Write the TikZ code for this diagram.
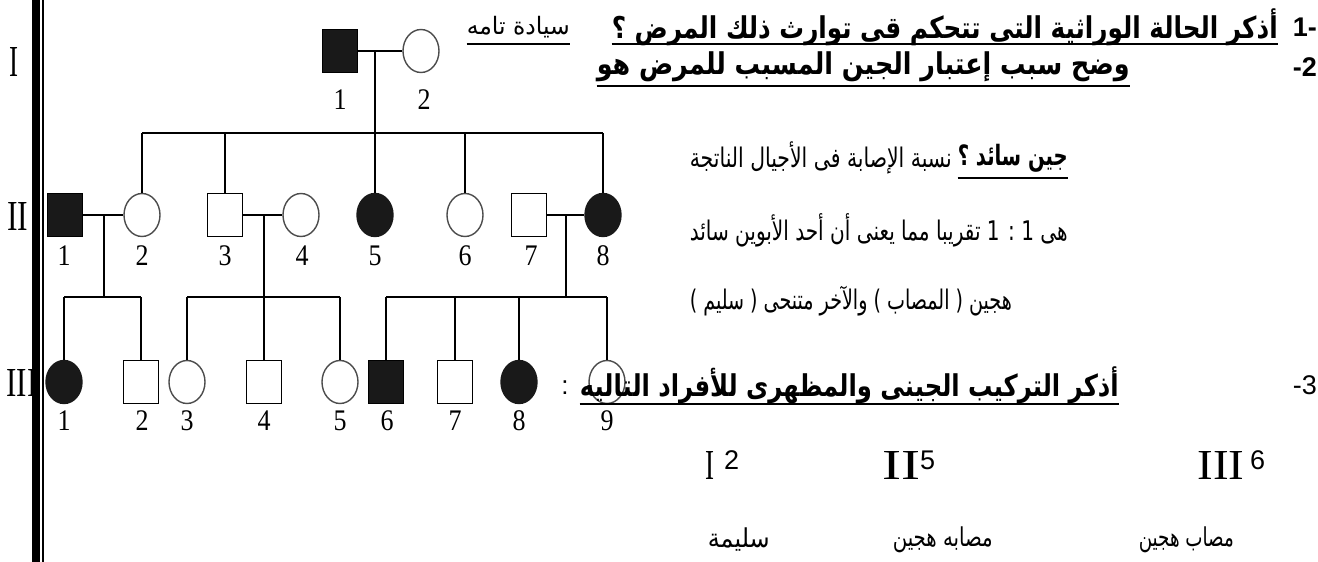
\documentclass[tikz,border=0pt]{standalone}
\usepackage{fontspec}
\setmainfont{Liberation Serif}
\newfontfamily\ar[Script=Arabic]{DejaVu Sans}
\newfontfamily\lsans{Liberation Sans}
\TeXXeTstate=1
\usetikzlibrary{shapes.geometric}
% width-fitted Arabic text: #1 width (pt), #2 font size (pt), #3 text
\newcommand\artx[3]{\resizebox{#1pt}{\height}{\fontsize{#2}{#2}\ar #3}}
\newcommand\artxb[3]{\resizebox{#1pt}{\height}{\fontsize{#2}{#2}\ar\bfseries #3}}
\newcommand\pnum[1]{\scalebox{1}[1.15]{#1}}
\begin{document}
\begin{tikzpicture}[x=1pt,y=-1pt,
  ped/.style={line width=1.3pt, black},
  msq/.style={rectangle, draw=black, line width=1.4pt, minimum width=35pt, minimum height=43pt, inner sep=0pt},
  fsq/.style={msq, fill=black!90},
  ocirc/.style={ellipse, draw=black!70, line width=1.4pt, minimum width=36pt, minimum height=43pt, inner sep=0pt},
  fcirc/.style={ellipse, draw=black!90, fill=black!90, line width=1.4pt, minimum width=36pt, minimum height=43pt, inner sep=0pt},
  num/.style={font=\fontsize{26}{26}\selectfont, inner sep=0pt},
  txt/.style={inner sep=0pt, anchor=east},
  ulb/.style={line width=2.4pt, black},
  uln/.style={line width=1.4pt, black}
]
\useasboundingbox (0,0) rectangle (1318,562);
\fill[white] (0,0) rectangle (1318,562);

% ---------- generation labels ----------
\node[inner sep=0pt] (gI) at (14,62) {\resizebox{9pt}{29pt}{I}};
\node[inner sep=0pt] (gII) at (17.5,216) {\resizebox{21pt}{28pt}{II}};
\node[inner sep=0pt] (gIII) at (22,383) {\resizebox{31pt}{27pt}{III}};

% ---------- generation I ----------
\node[fsq] (I1) at (340,51) {};
\node[ocirc] (I2) at (421,51) {};
\coordinate (m1) at (375,51);
\coordinate (s1) at (375,133);

% ---------- generation II ----------
\node[fsq] (II1) at (65,215) {};
\node[ocirc] (II2) at (142,215) {};
\node[msq] (II3) at (225,215) {};
\node[ocirc] (II4) at (301,215) {};
\node[fcirc] (II5) at (375,215) {};
\node[ocirc] (II6) at (465,215) {};
\node[msq] (II7) at (529,215) {};
\node[fcirc] (II8) at (603,215) {};
\coordinate (m2) at (104,215);
\coordinate (m3) at (264,215);
\coordinate (m4) at (566,215);
\coordinate (s2) at (104,297);
\coordinate (s3) at (264,297);
\coordinate (s4) at (566,297);

% ---------- generation III ----------
\node[fcirc] (III1) at (64,382) {};
\node[msq] (III2) at (141,382) {};
\node[ocirc] (III3) at (187,382) {};
\node[msq] (III4) at (264,382) {};
\node[ocirc] (III5) at (340,382) {};
\node[fsq] (III6) at (386,382) {};
\node[msq] (III7) at (455,382) {};
\node[fcirc] (III8) at (519,382) {};
\node[ocirc] (III9) at (607,382) {};

% ---------- connectors ----------
\draw[ped] (I1.east) -- (I2.west);
\draw[ped] (m1) -- (s1);
\draw[ped] (II2.north |- s1) -- (II8.north |- s1);
\foreach \n in {II2,II3,II5,II6,II8} \draw[ped] (\n.north |- s1) -- (\n.north);

\draw[ped] (II1.east) -- (II2.west);
\draw[ped] (II3.east) -- (II4.west);
\draw[ped] (II7.east) -- (II8.west);
\draw[ped] (m2) -- (s2);
\draw[ped] (m3) -- (s3);
\draw[ped] (m4) -- (s4);

\draw[ped] (III1.north |- s2) -- (III2.north |- s2);
\foreach \n in {III1,III2} \draw[ped] (\n.north |- s2) -- (\n.north);
\draw[ped] (III3.north |- s3) -- (III5.north |- s3);
\foreach \n in {III3,III4,III5} \draw[ped] (\n.north |- s3) -- (\n.north);
\draw[ped] (III6.north |- s4) -- (III9.north |- s4);
\foreach \n in {III6,III7,III8,III9} \draw[ped] (\n.north |- s4) -- (\n.north);

% ---------- numbers ----------
\node[num] (nI1) at (340,100) {\pnum{1}};
\node[num] (nI2) at (424,100) {\pnum{2}};
\foreach \x/\t in {64/1,142/2,225/3,302/4,375/5,465/6,531/7,603/8}
  \node[num] (nII\t) at (\x,256) {\pnum{\t}};
\foreach \x/\t in {64/1,142/2,187/3,264/4,340/5,387/6,455/7,519/8,607/9}
  \node[num] (nIII\t) at (\x,421) {\pnum{\t}};

% ---------- left bars ----------
\fill[black] (32,0) rectangle (40,562);
\fill[black] (42,0) rectangle (44,562);

% ---------- text ----------
\coordinate (u1) at (0,44);
\coordinate (u2) at (0,86);
\coordinate (u3) at (0,178);
\coordinate (u6) at (0,404);

\node[txt] (q1n) at (1317,27) {\fontsize{27}{27}\lsans\bfseries 1-};
\node[txt] (q1) at (1278,27) {\artxb{666}{30}{\beginR أذكر الحالة الوراثية التى تتحكم قى توارث ذلك المرض ؟\endR}};
\node[txt] (a1) at (570,27) {\artx{103}{24}{\beginR سيادة تامه\endR}};
\draw[ulb] (q1.west |- u1) -- (q1.east |- u1);
\draw[uln] (a1.west |- u1) -- (a1.east |- u1);

\node[txt] (q2n) at (1317,67) {\fontsize{27}{27}\lsans\bfseries -2};
\node[txt] (q2) at (1130,67) {\artxb{533}{30}{\beginR وضح سبب إعتبار الجين المسبب للمرض هو\endR}};
\draw[ulb] (q2.west |- u2) -- (q2.east |- u2);

\node[txt] (q2b) at (1068,158) {\artxb{110}{28}{\beginR جين سائد ؟\endR}};
\node[txt] (a2a) at (952,158) {\artx{262}{27}{\beginR نسبة الإصابة فى الأجيال الناتجة\endR}};
\draw[ulb] (q2b.west |- u3) -- (q2b.east |- u3);
\node[txt] (a2b) at (1068,230) {\artx{378}{27}{\beginR هى 1 : 1 تقريبا مما يعنى أن أحد الأبوين سائد\endR}};
\node[txt] (a2c) at (1012,301) {\artx{322}{27}{\beginR هجين ( المصاب ) والآخر متنحى ( سليم )\endR}};

\node[txt] (q3n) at (1317,385) {\fontsize{27}{27}\lsans -3};
\node[txt] (q3) at (1119,385) {\artxb{539}{30}{\beginR أذكر التركيب الجينى والمظهرى للأفراد التاليه\endR}};
\node[inner sep=0pt] (col) at (565,388) {\fontsize{26}{26}\lsans :};
\draw[ulb] (q3.west |- u6) -- (q3.east |- u6);

\node[inner sep=0pt] (rI) at (709.5,465) {\resizebox{9pt}{28pt}{I}};
\node[inner sep=0pt, anchor=west] (d2) at (724,460) {\fontsize{27}{27}\lsans 2};
\node[inner sep=0pt] (rII) at (901.5,465) {\resizebox{38pt}{28pt}{II}};
\node[inner sep=0pt, anchor=west] (d5) at (920,460) {\fontsize{27}{27}\lsans 5};
\node[inner sep=0pt] (rIII) at (1221,465) {\resizebox{47pt}{28pt}{III}};
\node[inner sep=0pt, anchor=west] (d6) at (1250,460) {\fontsize{27}{27}\lsans 6};

\node[txt] (g1) at (770,540) {\artx{62}{26}{\beginR سليمة\endR}};
\node[txt] (g2) at (993,540) {\artx{100}{26}{\beginR مصابه هجين\endR}};
\node[txt] (g3) at (1234,540) {\artx{95}{26}{\beginR مصاب هجين\endR}};
\end{tikzpicture}
\end{document}
